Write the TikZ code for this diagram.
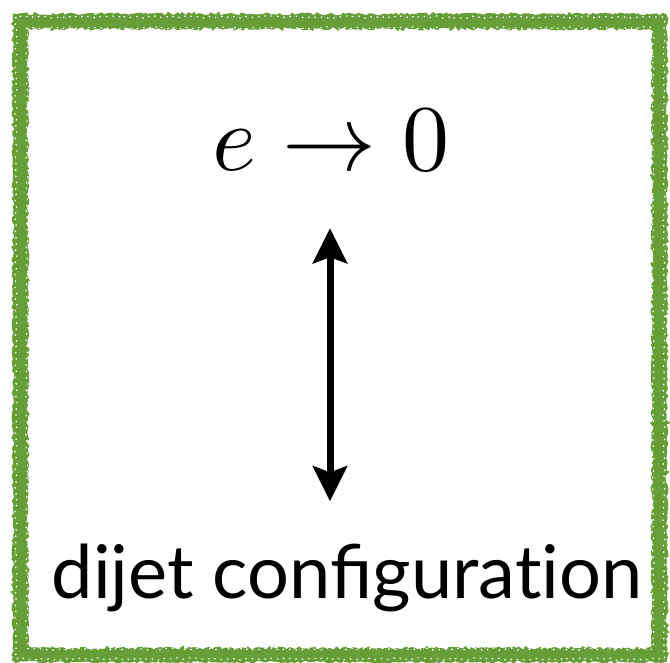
\documentclass[tikz,border=0pt]{standalone}
\usepackage{fontspec}
\newfontfamily\labelfont{Lato}
\usetikzlibrary{arrows.meta,decorations.pathmorphing}
\definecolor{frame}{RGB}{102,158,56}
\tikzset{
  rough/.style={draw=frame, line width=4pt, decorate, decoration={random steps, segment length=2.5pt, amplitude=1.4pt}},
  speck/.style={draw=white, line width=1.2pt, dash pattern=on 1.5pt off 5pt, decorate, decoration={random steps, segment length=3pt, amplitude=1.2pt}},
  bigarrow/.style={line width=7pt, {Stealth[length=35pt,width=34pt,inset=6pt]}-{Stealth[length=35pt,width=34pt,inset=6pt]}},
}
\begin{document}
\begin{tikzpicture}[x=1pt,y=-1pt]
\useasboundingbox (0,0) rectangle (670,663);
% rough green frame
\draw[draw=frame, line width=11pt] (21,21) rectangle (659,655);
\draw[rough] (15,16) rectangle (665,660);
\draw[rough] (26,27) rectangle (654,650);
\draw[rough] (18,19) rectangle (662,658);
\draw[rough] (24,24) rectangle (656,652);
\draw[speck] (27,28) rectangle (653,649);
\draw[speck] (16,17) rectangle (664,659);
% texts
\node[anchor=base, inner sep=0pt, font=\fontsize{10}{12}\selectfont] (top) at (331,171) {\scalebox{9.4}{$e\to 0$}};
\node[anchor=base, inner sep=0pt, font=\labelfont\fontsize{74}{74}\selectfont] (bot) at (347,598) {dijet configurat\kern0pt ion};
% arrow
\draw[bigarrow, shorten <=57pt, shorten >=42pt] (top.south -| 330,0) -- (bot.north -| 330,0);
\end{tikzpicture}
\end{document}
